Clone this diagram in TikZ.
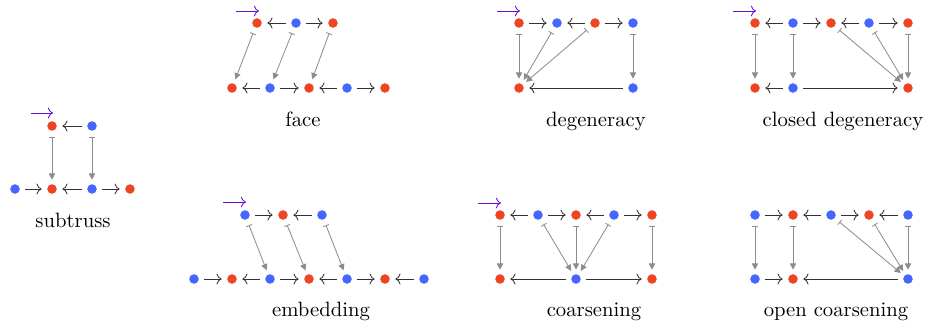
\documentclass[tikz,border=0pt]{standalone}
\usepackage{xcolor}
\usepackage{tikz}
\usetikzlibrary{arrows.meta}
\definecolor{trussred}{HTML}{EE4422}
\definecolor{trussblue}{HTML}{4466FF}
\definecolor{trussgrey}{HTML}{8C8C8C}
\definecolor{trussviolet}{HTML}{6A0DD9}

\begin{document}
\begin{tikzpicture}[x=0.4831pt, y=-0.4831pt,
  rdot/.style={circle, fill=trussred, inner sep=0pt, minimum size=4.6pt},
  bdot/.style={circle, fill=trussblue, inner sep=0pt, minimum size=4.6pt},
  arrow/.style={-{Computer Modern Rightarrow}, draw=black!80,
    shorten <=2.5pt, shorten >=2.5pt},
  maparrow/.style={{Bar[width=3pt]}-{Triangle[length=3pt, width=3pt]},
    draw=trussgrey, shorten <=2.8pt, shorten >=2pt},
  pointer/.style={-{Computer Modern Rightarrow}, draw=trussviolet},
  lbl/.style={anchor=base, font=\normalsize}]
  \useasboundingbox (0,0) rectangle (929,327);

  % subtruss
  \node[rdot] (s1) at (52,126) {};
  \node[bdot] (s2) at (92,126) {};
  \node[bdot] (s3) at (15,189) {};
  \node[rdot] (s4) at (52,189) {};
  \node[bdot] (s5) at (92,189) {};
  \node[rdot] (s6) at (130,189) {};
  \draw[arrow] (s2) -- (s1);
  \draw[arrow] (s3) -- (s4);
  \draw[arrow] (s5) -- (s4);
  \draw[arrow] (s5) -- (s6);
  \draw[maparrow] (s1) -- (s4);
  \draw[maparrow] (s2) -- (s5);
  \coordinate (sP0) at (31,113);
  \coordinate (sP1) at (53,113);
  \draw[pointer] (sP0) -- (sP1);
  \node[lbl] (sLbl) at (73,228) {subtruss};

  % face
  \node[rdot] (f1) at (257,23) {};
  \node[bdot] (f2) at (296,23) {};
  \node[rdot] (f3) at (333,23) {};
  \node[rdot] (f4) at (232,88) {};
  \node[bdot] (f5) at (270,88) {};
  \node[rdot] (f6) at (309,88) {};
  \node[bdot] (f7) at (347,88) {};
  \node[rdot] (f8) at (385,88) {};
  \draw[arrow] (f2) -- (f1);
  \draw[arrow] (f2) -- (f3);
  \draw[arrow] (f5) -- (f4);
  \draw[arrow] (f5) -- (f6);
  \draw[arrow] (f7) -- (f6);
  \draw[arrow] (f7) -- (f8);
  \draw[maparrow] (f1) -- (f4);
  \draw[maparrow] (f2) -- (f5);
  \draw[maparrow] (f3) -- (f6);
  \coordinate (fP0) at (236,11);
  \coordinate (fP1) at (259,11);
  \draw[pointer] (fP0) -- (fP1);
  \node[lbl] (fLbl) at (303,127) {face};

  % degeneracy
  \node[rdot] (d1) at (519,23) {};
  \node[bdot] (d2) at (557,23) {};
  \node[rdot] (d3) at (595,23) {};
  \node[bdot] (d4) at (633,23) {};
  \node[rdot] (d5) at (519,88) {};
  \node[bdot] (d6) at (633,88) {};
  \draw[arrow] (d1) -- (d2);
  \draw[arrow] (d3) -- (d2);
  \draw[arrow] (d3) -- (d4);
  \draw[arrow] (d6) -- (d5);
  \draw[maparrow] (d1) -- (d5);
  \draw[maparrow] (d2) -- (d5);
  \draw[maparrow] (d3) -- (d5);
  \draw[maparrow] (d4) -- (d6);
  \coordinate (dP0) at (497,11);
  \coordinate (dP1) at (520,11);
  \draw[pointer] (dP0) -- (dP1);
  \node[lbl] (dLbl) at (596,127) {degeneracy};

  % closed degeneracy
  \node[rdot] (c1) at (755,23) {};
  \node[bdot] (c2) at (793,23) {};
  \node[rdot] (c3) at (831,23) {};
  \node[bdot] (c4) at (869,23) {};
  \node[rdot] (c5) at (908,23) {};
  \node[rdot] (c6) at (755,88) {};
  \node[bdot] (c7) at (793,88) {};
  \node[rdot] (c8) at (908,88) {};
  \draw[arrow] (c2) -- (c1);
  \draw[arrow] (c2) -- (c3);
  \draw[arrow] (c4) -- (c3);
  \draw[arrow] (c4) -- (c5);
  \draw[arrow] (c7) -- (c6);
  \draw[arrow] (c7) -- (c8);
  \draw[maparrow] (c1) -- (c6);
  \draw[maparrow] (c2) -- (c7);
  \draw[maparrow] (c3) -- (c8);
  \draw[maparrow] (c4) -- (c8);
  \draw[maparrow] (c5) -- (c8);
  \coordinate (cP0) at (733,11);
  \coordinate (cP1) at (756,11);
  \draw[pointer] (cP0) -- (cP1);
  \node[lbl] (cLbl) at (843,127) {closed degeneracy};

  % embedding
  \node[bdot] (e1) at (245,215) {};
  \node[rdot] (e2) at (283,215) {};
  \node[bdot] (e3) at (322,215) {};
  \node[bdot] (e4) at (194,279) {};
  \node[rdot] (e5) at (232,279) {};
  \node[bdot] (e6) at (270,279) {};
  \node[rdot] (e7) at (309,279) {};
  \node[bdot] (e8) at (347,279) {};
  \node[rdot] (e9) at (385,279) {};
  \node[bdot] (e10) at (424,279) {};
  \draw[arrow] (e1) -- (e2);
  \draw[arrow] (e3) -- (e2);
  \draw[arrow] (e4) -- (e5);
  \draw[arrow] (e6) -- (e5);
  \draw[arrow] (e6) -- (e7);
  \draw[arrow] (e8) -- (e7);
  \draw[arrow] (e8) -- (e9);
  \draw[arrow] (e10) -- (e9);
  \draw[maparrow] (e1) -- (e6);
  \draw[maparrow] (e2) -- (e7);
  \draw[maparrow] (e3) -- (e8);
  \coordinate (eP0) at (223,202);
  \coordinate (eP1) at (246,202);
  \draw[pointer] (eP0) -- (eP1);
  \node[lbl] (eLbl) at (321,317) {embedding};

  % coarsening
  \node[rdot] (k1) at (500,215) {};
  \node[bdot] (k2) at (538,215) {};
  \node[rdot] (k3) at (576,215) {};
  \node[bdot] (k4) at (614,215) {};
  \node[rdot] (k5) at (652,215) {};
  \node[rdot] (k6) at (500,279) {};
  \node[bdot] (k7) at (576,279) {};
  \node[rdot] (k8) at (652,279) {};
  \draw[arrow] (k2) -- (k1);
  \draw[arrow] (k2) -- (k3);
  \draw[arrow] (k4) -- (k3);
  \draw[arrow] (k4) -- (k5);
  \draw[arrow] (k7) -- (k6);
  \draw[arrow] (k7) -- (k8);
  \draw[maparrow] (k1) -- (k6);
  \draw[maparrow] (k2) -- (k7);
  \draw[maparrow] (k3) -- (k7);
  \draw[maparrow] (k4) -- (k7);
  \draw[maparrow] (k5) -- (k8);
  \coordinate (kP0) at (478,203);
  \coordinate (kP1) at (501,203);
  \draw[pointer] (kP0) -- (kP1);
  \node[lbl] (kLbl) at (594,317) {coarsening};

  % open coarsening
  \node[bdot] (o1) at (755,215) {};
  \node[rdot] (o2) at (793,215) {};
  \node[bdot] (o3) at (831,215) {};
  \node[rdot] (o4) at (869,215) {};
  \node[bdot] (o5) at (908,215) {};
  \node[bdot] (o6) at (755,279) {};
  \node[rdot] (o7) at (793,279) {};
  \node[bdot] (o8) at (908,279) {};
  \draw[arrow] (o1) -- (o2);
  \draw[arrow] (o3) -- (o2);
  \draw[arrow] (o3) -- (o4);
  \draw[arrow] (o5) -- (o4);
  \draw[arrow] (o6) -- (o7);
  \draw[arrow] (o8) -- (o7);
  \draw[maparrow] (o1) -- (o6);
  \draw[maparrow] (o2) -- (o7);
  \draw[maparrow] (o3) -- (o8);
  \draw[maparrow] (o4) -- (o8);
  \draw[maparrow] (o5) -- (o8);
  \node[lbl] (oLbl) at (836,317) {open coarsening};
\end{tikzpicture}
\end{document}
